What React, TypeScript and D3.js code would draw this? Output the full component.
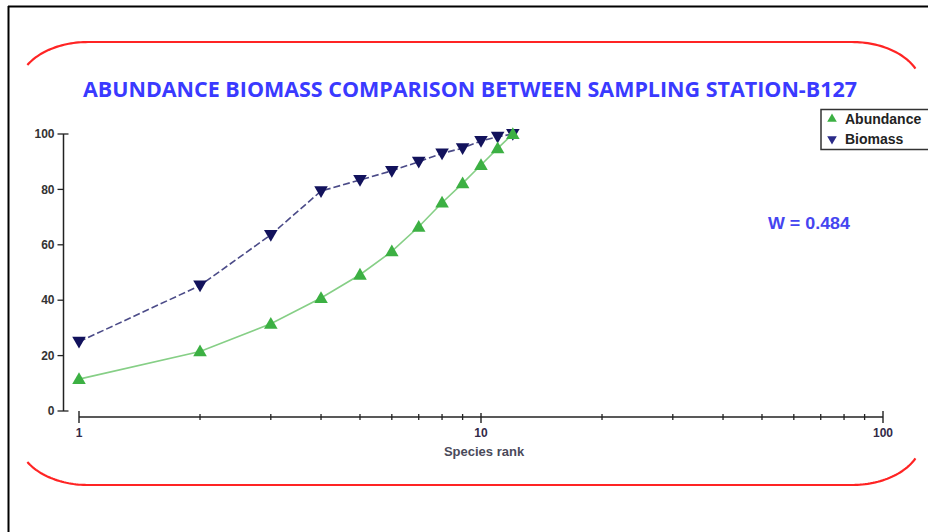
import React, { useEffect, useRef } from "react"
import * as d3 from "d3"

const ranks = [1, 2, 3, 4, 5, 6, 7, 8, 9, 10, 11, 12]
const abundance = [11.5, 21.5, 31.5, 40.8, 49.2, 57.6, 66.5, 75.2, 82.2, 88.8, 94.8, 100]
const biomass = [25, 45.3, 63.6, 79.4, 83.4, 86.7, 90, 93, 94.9, 97.5, 99, 100]
const yTicks = [0, 20, 40, 60, 80, 100]
const xLabels = [1, 10, 100]
const minorTicks = [2, 3, 4, 5, 6, 7, 8, 9, 20, 30, 40, 50, 60, 70, 80, 90]
const title = "ABUNDANCE BIOMASS COMPARISON BETWEEN SAMPLING STATION-B127"
const seriesNames = ["Abundance", "Biomass"]
const wLabel = "W = 0.484"

const W = 928
const H = 532

export default function App() {
  const ref = useRef<SVGSVGElement | null>(null)

  useEffect(() => {
    const svg = d3.select(ref.current)
    svg.selectAll("*").remove()

    svg.append("rect").attr("width", W).attr("height", H).attr("fill", "#fff")

    // black frame on top and left
    svg.append("line").attr("x1", 8).attr("x2", W).attr("y1", 6.5).attr("y2", 6.5).attr("stroke", "#000").attr("stroke-width", 2)
    svg.append("line").attr("x1", 8.5).attr("x2", 8.5).attr("y1", 6).attr("y2", H).attr("stroke", "#000").attr("stroke-width", 2)

    // red rounded frame (sides fade out, so only top and bottom with corners)
    const left = 18, right = 922, top = 42, bottom = 485, rx = 70, ry = 46
    const arc = (cx: number, cy: number, a0: number, a1: number) => {
      const pts: [number, number][] = []
      for (let i = 0; i <= 30; i++) {
        const a = a0 + (a1 - a0) * i / 30
        pts.push([cx + rx * Math.cos(a), cy + ry * Math.sin(a)])
      }
      return pts
    }
    const toRad = (d: number) => d * Math.PI / 180
    const topPts = [
      ...arc(left + rx, top + ry, toRad(-150), toRad(-90)),
      ...arc(right - rx, top + ry, toRad(-90), toRad(-25)),
    ]
    const botPts = [
      ...arc(left + rx, bottom - ry, toRad(150), toRad(90)),
      ...arc(right - rx, bottom - ry, toRad(90), toRad(25)),
    ]
    const lineGen = d3.line()
    svg.append("path").attr("d", lineGen(topPts)).attr("fill", "none").attr("stroke", "#ff2424").attr("stroke-width", 2.2)
    svg.append("path").attr("d", lineGen(botPts)).attr("fill", "none").attr("stroke", "#ff2424").attr("stroke-width", 2.2)

    // title
    svg.append("text").attr("x", 470).attr("y", 97).attr("text-anchor", "middle")
      .attr("font-family", "'Open Sans', sans-serif").attr("font-weight", "bold").attr("font-size", 21)
      .attr("fill", "#3a3aff").attr("textLength", 774).attr("lengthAdjust", "spacingAndGlyphs")
      .text(title)

    const x = d3.scaleLog().domain([1, 100]).range([79, 883])
    const y = d3.scaleLinear().domain([0, 100]).range([411, 134])
    const axisX = 63.5
    const axisY = 417

    const font = "'Liberation Sans', Arial, sans-serif"
    const axisColor = "#222"

    // y axis
    const gy = svg.append("g")
    gy.append("line").attr("x1", axisX).attr("x2", axisX).attr("y1", y(100)).attr("y2", y(0)).attr("stroke", axisColor).attr("stroke-width", 1.5)
    yTicks.forEach(t => {
      const end = t === 0 || t === 100
      gy.append("line").attr("x1", axisX - 6).attr("x2", end ? axisX + 5 : axisX).attr("y1", y(t)).attr("y2", y(t)).attr("stroke", axisColor).attr("stroke-width", 1.3)
      gy.append("text").attr("x", axisX - 9).attr("y", y(t)).attr("dy", "0.35em").attr("text-anchor", "end")
        .attr("font-family", font).attr("font-weight", "bold").attr("font-size", 12).attr("fill", "#333").text(t)
    })

    // x axis
    const gx = svg.append("g")
    gx.append("line").attr("x1", x(1)).attr("x2", x(100)).attr("y1", axisY).attr("y2", axisY).attr("stroke", axisColor).attr("stroke-width", 1.5)
    minorTicks.forEach(t => {
      gx.append("line").attr("x1", x(t)).attr("x2", x(t)).attr("y1", axisY - 3).attr("y2", axisY + 3).attr("stroke", axisColor).attr("stroke-width", 1.3)
    })
    xLabels.forEach(t => {
      gx.append("line").attr("x1", x(t)).attr("x2", x(t)).attr("y1", t === 10 ? axisY - 4 : axisY - 6).attr("y2", axisY + 6).attr("stroke", axisColor).attr("stroke-width", 1.4)
      gx.append("text").attr("x", x(t)).attr("y", 437).attr("text-anchor", "middle")
        .attr("font-family", font).attr("font-weight", "bold").attr("font-size", 12).attr("fill", "#332a48").text(t)
    })
    svg.append("text").attr("x", 484).attr("y", 456).attr("text-anchor", "middle")
      .attr("font-family", font).attr("font-weight", "bold").attr("font-size", 13).attr("fill", "#4a4a5a").text("Species rank")

    const line = d3.line<number>().x((_, i) => x(ranks[i])).y(d => y(d))

    // biomass
    svg.append("path").attr("d", line(biomass)).attr("fill", "none").attr("stroke", "#4b4b88").attr("stroke-width", 1.6).attr("stroke-dasharray", "7,3")
    // abundance
    svg.append("path").attr("d", line(abundance)).attr("fill", "none").attr("stroke", "#86cf86").attr("stroke-width", 1.6)

    const tri = d3.symbol().type(d3.symbolTriangle).size(80)
    svg.selectAll(".bio").data(biomass).join("path").attr("class", "bio")
      .attr("d", tri()).attr("fill", "#12125c")
      .attr("transform", (d, i) => `translate(${x(ranks[i])},${y(d) - 1}) rotate(180)`)
    svg.selectAll(".abu").data(abundance).join("path").attr("class", "abu")
      .attr("d", tri()).attr("fill", "#3cb043")
      .attr("transform", (d, i) => `translate(${x(ranks[i])},${y(d) + 1})`)

    // legend
    const lg = svg.append("g")
    lg.append("rect").attr("x", 821).attr("y", 109.5).attr("width", 130).attr("height", 40).attr("fill", "#fff").attr("stroke", "#333").attr("stroke-width", 1.5)
    const small = d3.symbol().type(d3.symbolTriangle).size(40)
    lg.append("path").attr("d", small()).attr("fill", "#3cb043").attr("transform", "translate(832,119)")
    lg.append("path").attr("d", small()).attr("fill", "#2a2a88").attr("transform", "translate(832,139) rotate(180)")
    lg.append("text").attr("x", 845).attr("y", 124).attr("font-family", font).attr("font-weight", "bold").attr("font-size", 14).attr("fill", "#222").text(seriesNames[0])
    lg.append("text").attr("x", 845).attr("y", 144).attr("font-family", font).attr("font-weight", "bold").attr("font-size", 14).attr("fill", "#222").text(seriesNames[1])

    svg.append("text").attr("x", 768).attr("y", 229).attr("font-family", font).attr("font-weight", "bold").attr("font-size", 16).attr("fill", "#4545f0")
      .attr("textLength", 82).attr("lengthAdjust", "spacingAndGlyphs").text(wLabel)
  }, [])

  return (
    <svg ref={ref} width={W} height={H} style={{ position: "absolute", left: 0, top: 0 }} />
  )
}
